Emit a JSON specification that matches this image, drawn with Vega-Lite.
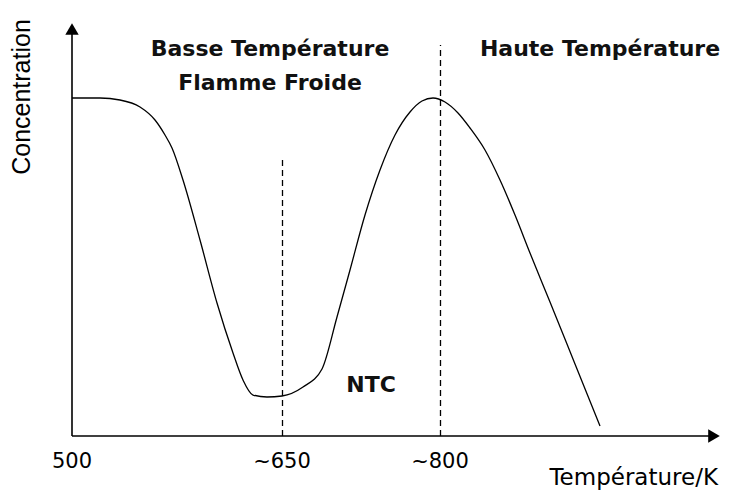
{
  "$schema": "https://vega.github.io/schema/vega-lite/v6.json",
  "width": 652,
  "height": 421,
  "autosize": {"type": "none"},
  "padding": {"left": 72, "top": 15, "right": 12, "bottom": 54},
  "background": "white",
  "config": {"view": {"stroke": null}},
  "datasets": {
    "curve": [
      {"t": 0, "c": 338}, {"t": 28, "c": 338}, {"t": 48, "c": 336}, {"t": 68, "c": 329},
      {"t": 83, "c": 316}, {"t": 93, "c": 301}, {"t": 100, "c": 288}, {"t": 111, "c": 256},
      {"t": 128, "c": 196}, {"t": 145, "c": 133}, {"t": 161, "c": 83}, {"t": 171, "c": 56},
      {"t": 181, "c": 41}, {"t": 195, "c": 39}, {"t": 210, "c": 40}, {"t": 231, "c": 49},
      {"t": 250, "c": 67}, {"t": 265, "c": 119}, {"t": 278, "c": 166}, {"t": 293, "c": 221},
      {"t": 308, "c": 266}, {"t": 323, "c": 301}, {"t": 338, "c": 324}, {"t": 350, "c": 335},
      {"t": 361, "c": 338}, {"t": 373, "c": 334}, {"t": 386, "c": 323}, {"t": 398, "c": 308},
      {"t": 413, "c": 286}, {"t": 428, "c": 256}, {"t": 443, "c": 221}, {"t": 458, "c": 183},
      {"t": 478, "c": 134}, {"t": 503, "c": 72}, {"t": 528, "c": 10}
    ],
    "axes": [
      {"x1": 0, "x2": 640, "y1": 0, "y2": 0},
      {"x1": 0, "x2": 0, "y1": 0, "y2": 405}
    ],
    "arrows": [
      {"x": 642, "y": 0, "shape": "triangle-right"},
      {"x": 0, "y": 407, "shape": "triangle-up"}
    ],
    "dashes": [
      {"x": 210.5, "y1": 0, "y2": 280},
      {"x": 368.5, "y1": 0, "y2": 391}
    ],
    "titles": [
      {"x": 198, "y": 387, "label": "Basse Température"},
      {"x": 198, "y": 353, "label": "Flamme Froide"},
      {"x": 528, "y": 387, "label": "Haute Température"},
      {"x": 299, "y": 51, "label": "NTC"}
    ],
    "ticks": [
      {"x": 0, "y": -26, "label": "500"},
      {"x": 210, "y": -26, "label": "~650"},
      {"x": 368, "y": -26, "label": "~800"}
    ]
  },
  "layer": [
    {
      "data": {"name": "axes"},
      "mark": {"type": "rule", "color": "black", "strokeWidth": 1.6},
      "encoding": {
        "x": {"field": "x1", "type": "quantitative", "scale": {"domain": [0, 652], "nice": false, "zero": false}, "axis": null},
        "x2": {"field": "x2"},
        "y": {"field": "y1", "type": "quantitative", "scale": {"domain": [0, 421], "nice": false, "zero": false}, "axis": null},
        "y2": {"field": "y2"}
      }
    },
    {
      "data": {"name": "arrows"},
      "mark": {"type": "point", "filled": true, "color": "black", "opacity": 1, "size": 180},
      "encoding": {
        "x": {"field": "x", "type": "quantitative"},
        "y": {"field": "y", "type": "quantitative"},
        "shape": {"field": "shape", "type": "nominal", "scale": null}
      }
    },
    {
      "data": {"name": "dashes"},
      "mark": {"type": "rule", "color": "black", "strokeWidth": 1.3, "strokeDash": [6, 4]},
      "encoding": {
        "x": {"field": "x", "type": "quantitative"},
        "y": {"field": "y1", "type": "quantitative"},
        "y2": {"field": "y2"}
      }
    },
    {
      "data": {"name": "curve"},
      "mark": {"type": "line", "color": "black", "strokeWidth": 1.3, "interpolate": "monotone"},
      "encoding": {
        "x": {"field": "t", "type": "quantitative"},
        "y": {"field": "c", "type": "quantitative"}
      }
    },
    {
      "data": {"name": "titles"},
      "mark": {"type": "text", "font": "DejaVu Sans", "fontSize": 22, "fontWeight": "bold", "align": "center", "baseline": "middle", "color": "#111"},
      "encoding": {
        "x": {"field": "x", "type": "quantitative"},
        "y": {"field": "y", "type": "quantitative"},
        "text": {"field": "label"}
      }
    },
    {
      "data": {"name": "ticks"},
      "mark": {"type": "text", "font": "DejaVu Sans", "fontSize": 21, "align": "center", "baseline": "middle", "color": "black"},
      "encoding": {
        "x": {"field": "x", "type": "quantitative"},
        "y": {"field": "y", "type": "quantitative"},
        "text": {"field": "label"}
      }
    },
    {
      "data": {"values": [{"x": 646, "y": -42, "label": "Température/K"}]},
      "mark": {"type": "text", "font": "DejaVu Sans", "fontSize": 23, "align": "right", "baseline": "middle", "color": "black"},
      "encoding": {
        "x": {"field": "x", "type": "quantitative"},
        "y": {"field": "y", "type": "quantitative"},
        "text": {"field": "label"}
      }
    },
    {
      "data": {"values": [{"x": -50, "y": 339, "label": "Concentration"}]},
      "mark": {"type": "text", "font": "Liberation Sans", "fontSize": 25, "angle": 270, "align": "center", "baseline": "middle", "color": "black"},
      "encoding": {
        "x": {"field": "x", "type": "quantitative"},
        "y": {"field": "y", "type": "quantitative"},
        "text": {"field": "label"}
      }
    }
  ]
}
